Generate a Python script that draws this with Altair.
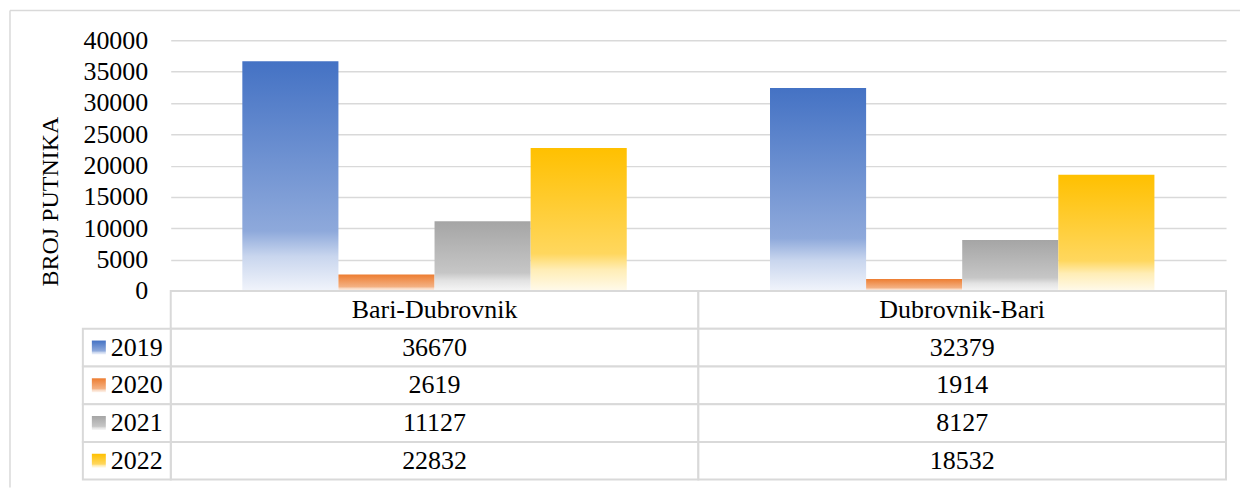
import altair as alt
import pandas as pd

# ---- data ----
routes = ["Bari-Dubrovnik", "Dubrovnik-Bari"]
years = ["2019", "2020", "2021", "2022"]
values = {
    "2019": [36670, 32379],
    "2020": [2619, 1914],
    "2021": [11127, 8127],
    "2022": [22832, 18532],
}
y_title = "BROJ PUTNIKA"
y_ticks = [0, 5000, 10000, 15000, 20000, 25000, 30000, 35000, 40000]
header_row = " "

# gradient stops per series (top -> bottom)
grad_colors = {
    "2019": ["#4472C4", "#8EA9DB", "#C9D6EE", "#F1F4FB"],
    "2020": ["#ED7D31", "#F4B183", "#F9D9C3", "#FDF3EC"],
    "2021": ["#A5A5A5", "#C6C6C6", "#E2E2E2", "#F6F6F6"],
    "2022": ["#FFC000", "#FFD75E", "#FFEDB5", "#FFFAEB"],
}
stop_offsets = [0.0, 0.74, 0.85, 1.0]

FONT = "Liberation Serif"
FS = 26
FS_TITLE = 24
GRID = "#D9D9D9"

W, H_TOP, H_TAB = 1057, 251, 189

rows_bar = []
for yr in years:
    for r, v in zip(routes, values[yr]):
        rows_bar.append({"route": r, "year": yr, "value": v})
df_bar = pd.DataFrame(rows_bar)

rows_tab = []
for r in routes:
    rows_tab.append({"route": r, "row": header_row, "label": r})
    for i, yr in enumerate(years):
        rows_tab.append({"route": r, "row": yr, "label": str(values[yr][routes.index(r)])})
df_tab = pd.DataFrame(rows_tab)
df_leg = pd.DataFrame({"row": years, "label": years})


def grad(yr):
    return alt.LinearGradient(
        gradient="linear",
        stops=[alt.GradientStop(color=c, offset=o) for c, o in zip(grad_colors[yr], stop_offsets)],
        x1=0, x2=0, y1=0, y2=1,
    )


x_bar = alt.X("route:N", scale=alt.Scale(domain=routes, paddingInner=0.2715, paddingOuter=0.1357), axis=None)
xo_bar = alt.XOffset("year:N", scale=alt.Scale(domain=years, paddingInner=0, paddingOuter=0))
y_bar = alt.Y(
    "value:Q",
    scale=alt.Scale(domain=[0, 40000], nice=False),
    axis=alt.Axis(
        values=y_ticks, tickCount=9, format="d", labelOverlap=False,
        grid=True, gridColor=GRID, gridWidth=1.5, domain=False, ticks=False,
        labelFont=FONT, labelFontSize=FS, labelColor="#000000", labelPadding=23,
        title=y_title, titleFont=FONT, titleFontSize=FS_TITLE, titleFontWeight="normal", titleColor="#000000",
        titleAngle=270, titleX=-120, titleY=161, titleAlign="center", titleBaseline="middle",
    ),
)

base_bar = alt.Chart(df_bar)
bar_layers = []
for i, yr in enumerate(years):
    enc = dict(x=x_bar, xOffset=xo_bar, y=y_bar if i == 0 else alt.Y("value:Q"))
    bar_layers.append(
        base_bar.transform_filter(alt.datum.year == yr).mark_bar(color=grad(yr)).encode(**enc)
    )

border_top = alt.Chart(pd.DataFrame({"k": [0]})).mark_rule(color=GRID, strokeWidth=1.5).encode(
    x=alt.value(-161), x2=alt.value(W + 14), y=alt.value(-30)
)
border_left = alt.Chart(pd.DataFrame({"k": [0]})).mark_rule(color=GRID, strokeWidth=1.5).encode(
    x=alt.value(-161), y=alt.value(-30), y2=alt.value(H_TOP + H_TAB + 8)
)

top = alt.layer(border_top, border_left, *bar_layers).properties(width=W, height=H_TOP)

# ---- data table ----
x_tab = alt.X("route:N", scale=alt.Scale(domain=routes, paddingInner=0, paddingOuter=0), axis=None)
y_tab = alt.Y("row:N", scale=alt.Scale(domain=[header_row] + years, paddingInner=0, paddingOuter=0), axis=None)

cells = alt.Chart(df_tab).mark_rect(fill="white", stroke=GRID, strokeWidth=2).encode(x=x_tab, y=y_tab)
cell_text = alt.Chart(df_tab).mark_text(font=FONT, fontSize=FS, color="#000000", baseline="middle").encode(
    x=x_tab, y=y_tab, text="label:N"
)
leg_cells = alt.Chart(df_leg).mark_rect(fill="white", stroke=GRID, strokeWidth=2).encode(
    x=alt.value(-88), x2=alt.value(0), y=y_tab
)
leg_text = alt.Chart(df_leg).mark_text(font=FONT, fontSize=FS, color="#000000", align="left", baseline="middle").encode(
    x=alt.value(-60), y=y_tab, text="label:N"
)
leg_keys = [
    alt.Chart(df_leg).transform_filter(alt.datum.row == yr)
    .mark_square(size=196, color=grad(yr), opacity=1)
    .encode(x=alt.value(-72), y=y_tab)
    for yr in years
]

table = alt.layer(cells, cell_text, leg_cells, leg_text, *leg_keys).properties(width=W, height=H_TAB)

chart = (
    alt.vconcat(top, table, spacing=0, bounds="flush")
    .properties(padding={"left": 9, "top": 9, "right": 0, "bottom": 0}, background="white")
    .configure_view(stroke=None)
    .configure_text(font=FONT)
    .configure_axis(labelFont=FONT, titleFont=FONT)
)

chart.save("out.html", embed_options={"renderer": "svg", "actions": False})
